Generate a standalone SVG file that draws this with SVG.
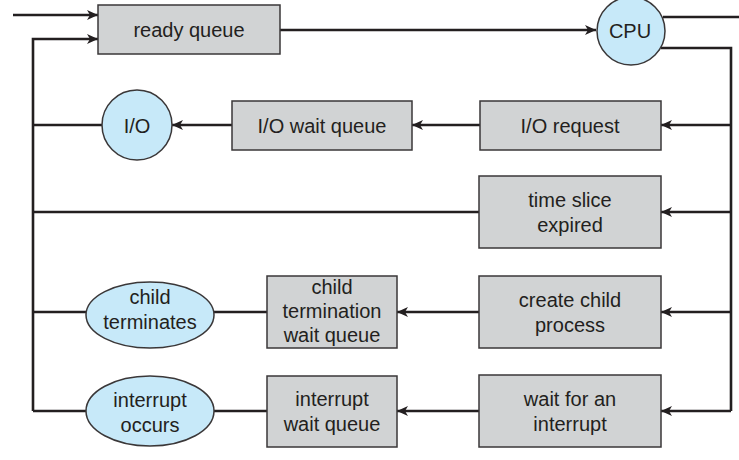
<svg xmlns="http://www.w3.org/2000/svg" width="739" height="460" viewBox="0 0 739 460">
<defs>
<marker id="arr" markerWidth="12" markerHeight="10" refX="11" refY="5" orient="auto" markerUnits="userSpaceOnUse">
<path d="M0,0 L11,5 L0,10 L3,5 Z" fill="#231f20"/>
</marker>
</defs>
<style>
.box{fill:#d1d3d4;stroke:#3a3738;stroke-width:1.5}
.oval{fill:#c7e9f9;stroke:#3a3738;stroke-width:1.5}
.ln{fill:none;stroke:#231f20;stroke-width:2.6}
.a{marker-end:url(#arr)}
text{font-family:"Liberation Sans",Arial,sans-serif;font-size:20px;fill:#231f20;text-anchor:middle;dominant-baseline:central}
</style>
<rect width="739" height="460" fill="#fff"/>
<g id="connectors">
<line class="ln a" x1="13" y1="15" x2="98" y2="15"/>
<polyline class="ln a" points="33,411 33,39 98,39"/>
<line class="ln a" x1="280" y1="30" x2="596" y2="30"/>
<line class="ln" x1="663" y1="17" x2="739" y2="17"/>
<polyline class="ln" points="661,48 731,48 731,411"/>
<line class="ln a" x1="731" y1="125" x2="661" y2="125"/>
<line class="ln a" x1="480" y1="125" x2="412" y2="125"/>
<line class="ln a" x1="232" y1="125" x2="172" y2="125"/>
<line class="ln" x1="102" y1="125" x2="33" y2="125"/>
<line class="ln a" x1="731" y1="212" x2="661" y2="212"/>
<line class="ln" x1="479" y1="212" x2="33" y2="212"/>
<line class="ln a" x1="731" y1="312" x2="661" y2="312"/>
<line class="ln a" x1="479" y1="312" x2="397" y2="312"/>
<line class="ln" x1="267" y1="312" x2="214" y2="312"/>
<line class="ln" x1="86" y1="312" x2="33" y2="312"/>
<line class="ln a" x1="731" y1="411" x2="661" y2="411"/>
<line class="ln a" x1="479" y1="411" x2="397" y2="411"/>
<line class="ln" x1="267" y1="411" x2="214" y2="411"/>
<line class="ln" x1="86" y1="411" x2="33" y2="411"/>
</g>
<g id="ready-queue"><rect class="box" x="98" y="5" width="182" height="49"/><text x="189" y="30">ready queue</text></g>
<g id="cpu"><circle class="oval" cx="631" cy="31" r="34"/><text x="630" y="31">CPU</text></g>
<g id="io-request"><rect class="box" x="480" y="101" width="181" height="49"/><text x="570" y="126">I/O request</text></g>
<g id="io-wait-queue"><rect class="box" x="232" y="101" width="180" height="49"/><text x="322" y="126">I/O wait queue</text></g>
<g id="io"><circle class="oval" cx="137" cy="125" r="35"/><text x="137" y="126">I/O</text></g>
<g id="time-slice"><rect class="box" x="479" y="176" width="182" height="72"/><text x="570" y="200">time slice</text><text x="570" y="225">expired</text></g>
<g id="create-child"><rect class="box" x="479" y="276" width="182" height="72"/><text x="570" y="300">create child</text><text x="570" y="325">process</text></g>
<g id="wait-interrupt"><rect class="box" x="479" y="375" width="182" height="72"/><text x="570" y="399">wait for an</text><text x="570" y="424">interrupt</text></g>
<g id="child-termination-queue"><rect class="box" x="267" y="276" width="130" height="72"/><text x="332" y="287">child</text><text x="332" y="311">termination</text><text x="332" y="335">wait queue</text></g>
<g id="interrupt-wait-queue"><rect class="box" x="267" y="376" width="130" height="71"/><text x="332" y="399">interrupt</text><text x="332" y="424">wait queue</text></g>
<g id="child-terminates"><ellipse class="oval" cx="150" cy="315" rx="64" ry="33"/><text x="150" y="297">child</text><text x="150" y="322">terminates</text></g>
<g id="interrupt-occurs"><ellipse class="oval" cx="150" cy="411" rx="64" ry="35"/><text x="150" y="400">interrupt</text><text x="150" y="425">occurs</text></g>
</svg>
